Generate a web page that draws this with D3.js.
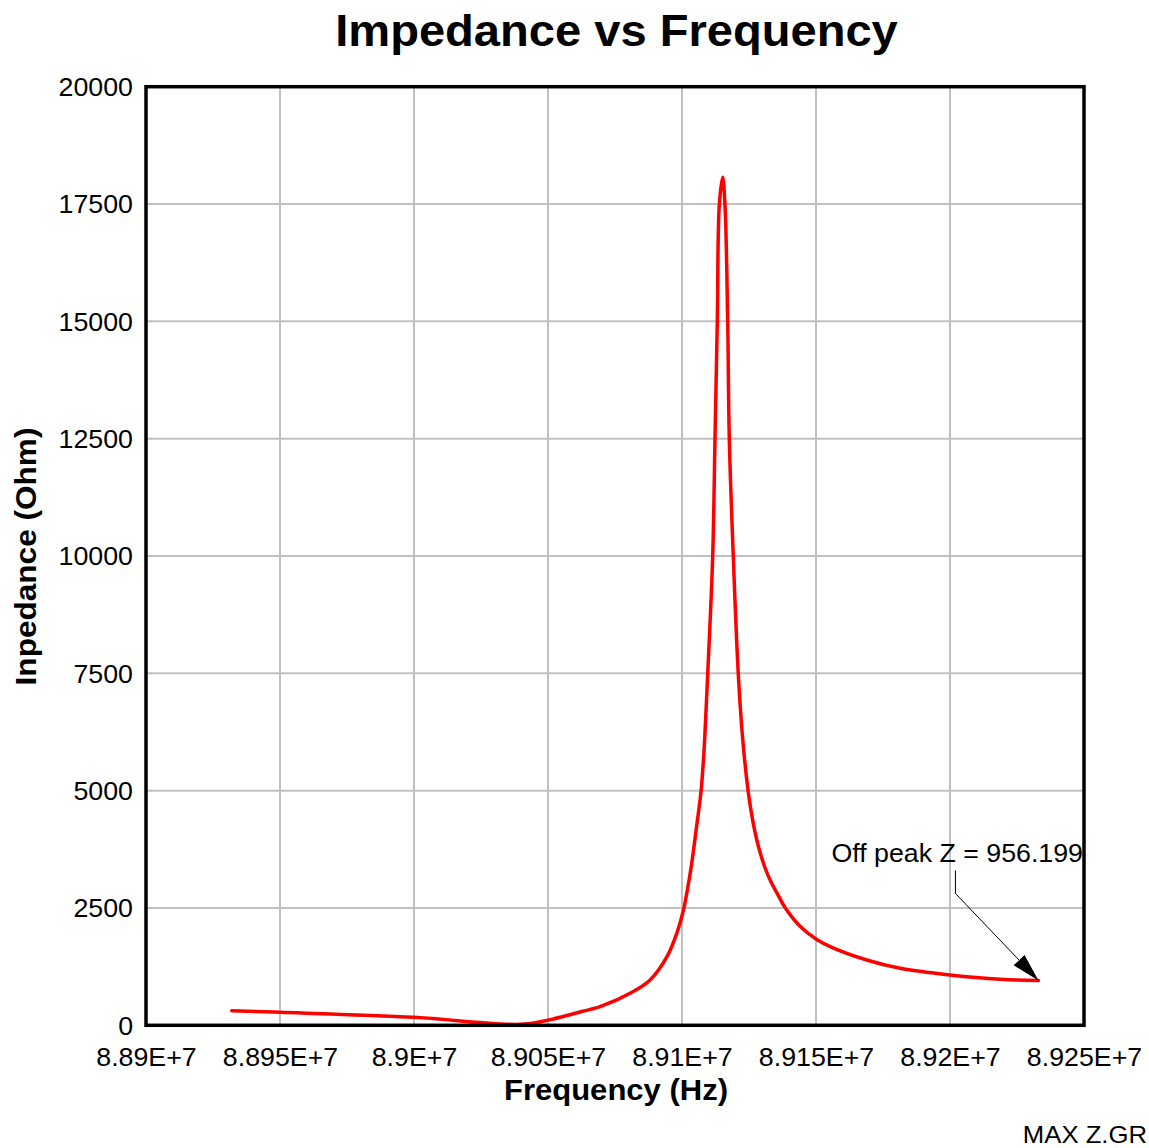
<!DOCTYPE html>
<html>
<head>
<meta charset="utf-8">
<script src="https://cdn.jsdelivr.net/npm/d3@7"></script>
<style>
  html, body { margin: 0; padding: 0; background: #ffffff; }
  svg { display: block; }
  text { font-family: "Liberation Sans", Arial, Helvetica, sans-serif; fill: #000; }
</style>
</head>
<body>
<svg id="chart" width="1149" height="1148"></svg>
<script>
// ---- data ----
const frequencyHz = [
  88932000, 88950000, 89000000, 89039500, 89050000, 89065700, 89069400,
  89081700, 89088100, 89094400, 89098100, 89100560, 89102050, 89103620,
  89105480, 89107090, 89108210, 89109590, 89111450, 89112310, 89113170,
  89113920, 89115180, 89116040, 89117050, 89117650, 89119140, 89121000,
  89122650, 89124740, 89126380, 89127870, 89129360, 89130970, 89133090,
  89135710, 89138320, 89144030, 89150260, 89156340, 89168920, 89181340,
  89200000, 89218660, 89233000
];
const impedanceOhm = [
  310, 277, 170, 20, 110, 340, 396,
  716, 965, 1462, 1967, 2457, 2900, 3450,
  4250, 4978, 5850, 7486, 9986, 12494, 14994,
  17480, 18071, 17480, 14994, 12494, 9986, 7486,
  6100, 4960, 4367, 3959, 3637, 3357, 3067,
  2791, 2520, 2110, 1830, 1650, 1392, 1215,
  1072, 980, 956.199
];
const xTickValues = [88900000, 88950000, 89000000, 89050000, 89100000, 89150000, 89200000, 89250000];
const xTickLabels = ["8.89E+7", "8.895E+7", "8.9E+7", "8.905E+7", "8.91E+7", "8.915E+7", "8.92E+7", "8.925E+7"];
const yTickValues = [0, 2500, 5000, 7500, 10000, 12500, 15000, 17500, 20000];
const yTickLabels = ["0", "2500", "5000", "7500", "10000", "12500", "15000", "17500", "20000"];
const titleText = "Impedance vs Frequency";
const xAxisTitle = "Frequency (Hz)";
const yAxisTitle = "Inpedance (Ohm)";
const annotationText = "Off peak Z = 956.199";
const footerText = "MAX Z.GR";

(function () {
// ---- layout ----
const W = 1149, H = 1148;
const plot = { left: 146, top: 86.7, right: 1084, bottom: 1025.3 };
const STRETCH = 1.07;

const svg = d3.select("#chart");
svg.append("rect").attr("width", W).attr("height", H).attr("fill", "#fff");

const x = d3.scaleLinear().domain([88900000, 89250000]).range([plot.left, plot.right]);
const y = d3.scaleLinear().domain([0, 20000]).range([plot.bottom, plot.top]);

function stretch(sel, f) {
  sel.each(function () {
    const len = this.getComputedTextLength();
    d3.select(this).attr("textLength", len * f).attr("lengthAdjust", "spacingAndGlyphs");
  });
}

// grid
const grid = svg.append("g").attr("class", "grid");
grid.selectAll("line.v").data(xTickValues.slice(1, -1)).join("line")
  .attr("x1", d => x(d)).attr("x2", d => x(d))
  .attr("y1", plot.top).attr("y2", plot.bottom)
  .attr("stroke", "#c0c0c0").attr("stroke-width", 2);
grid.selectAll("line.h").data(yTickValues.slice(1, -1)).join("line")
  .attr("y1", d => y(d)).attr("y2", d => y(d))
  .attr("x1", plot.left).attr("x2", plot.right)
  .attr("stroke", "#c0c0c0").attr("stroke-width", 2);

// axes (labels only)
const xAxis = d3.axisBottom(x).tickValues(xTickValues)
  .tickFormat((d, i) => xTickLabels[i]).tickSize(0).tickPadding(0);
const gx = svg.append("g").attr("transform", `translate(0,${plot.bottom})`).call(xAxis);
gx.select(".domain").remove();
gx.selectAll("text").attr("font-size", 25).attr("dy", null).attr("y", 41)
  .attr("font-family", "'Liberation Sans', Arial, sans-serif").attr("fill", "#000");

const yAxis = d3.axisLeft(y).tickValues(yTickValues)
  .tickFormat((d, i) => yTickLabels[i]).tickSize(0).tickPadding(0);
const gy = svg.append("g").attr("transform", `translate(${plot.left},0)`).call(yAxis);
gy.select(".domain").remove();
gy.selectAll("text").attr("font-size", 25).attr("x", -13).attr("dy", "0.35em")
  .attr("font-family", "'Liberation Sans', Arial, sans-serif").attr("fill", "#000");

// curve
const pts = frequencyHz.map((f, i) => [f, impedanceOhm[i]]);
const line = d3.line().x(d => x(d[0])).y(d => y(d[1])).curve(d3.curveCatmullRom.alpha(0.5));
svg.append("path").datum(pts).attr("d", line)
  .attr("fill", "none").attr("stroke", "#ff0000").attr("stroke-width", 3.5)
  .attr("stroke-linejoin", "round").attr("stroke-linecap", "round");

// frame
svg.append("rect")
  .attr("x", plot.left).attr("y", plot.top)
  .attr("width", plot.right - plot.left).attr("height", plot.bottom - plot.top)
  .attr("fill", "none").attr("stroke", "#000").attr("stroke-width", 3.5);

// annotation
const last = pts[pts.length - 1];
const tip = [x(last[0]), y(last[1])];
const elbow = [tip[0] - 83, tip[1] - 87];
const lead = [elbow[0], elbow[1] - 23];
const ann = svg.append("g");
const dx = tip[0] - elbow[0], dy = tip[1] - elbow[1];
const L = Math.hypot(dx, dy), ux = dx / L, uy = dy / L;
const headLen = 28, headHalf = 7.5;
const base = [tip[0] - ux * headLen, tip[1] - uy * headLen];
ann.append("polyline")
  .attr("points", [lead, elbow, base].map(p => p.join(",")).join(" "))
  .attr("fill", "none").attr("stroke", "#000").attr("stroke-width", 1);
ann.append("polygon")
  .attr("points", [tip, [base[0] - uy * headHalf, base[1] + ux * headHalf], [base[0] + uy * headHalf, base[1] - ux * headHalf]]
    .map(p => p.join(",")).join(" "))
  .attr("fill", "#000");
const annT = ann.append("text").attr("x", 1083).attr("y", 862)
  .attr("text-anchor", "end").attr("font-size", 25).text(annotationText);

// titles
const tT = svg.append("text").attr("x", 616.5).attr("y", 46).attr("text-anchor", "middle")
  .attr("font-size", 44).attr("font-weight", "bold").text(titleText);
const xT = svg.append("text").attr("x", 616).attr("y", 1100).attr("text-anchor", "middle")
  .attr("font-size", 29).attr("font-weight", "bold").text(xAxisTitle);
const yT = svg.append("text").attr("transform", "translate(36,556.5) rotate(-90)")
  .attr("text-anchor", "middle").attr("font-size", 29.5).attr("font-weight", "bold").text(yAxisTitle);
const fT = svg.append("text").attr("x", 1147).attr("y", 1143).attr("text-anchor", "end")
  .attr("font-size", 24).text(footerText);

stretch(gx.selectAll("text"), STRETCH);
stretch(gy.selectAll("text"), STRETCH);
stretch(annT, STRETCH);
stretch(tT, STRETCH);
stretch(xT, STRETCH);
stretch(yT, STRETCH);
stretch(fT, STRETCH);
})();
</script>
</body>
</html>
